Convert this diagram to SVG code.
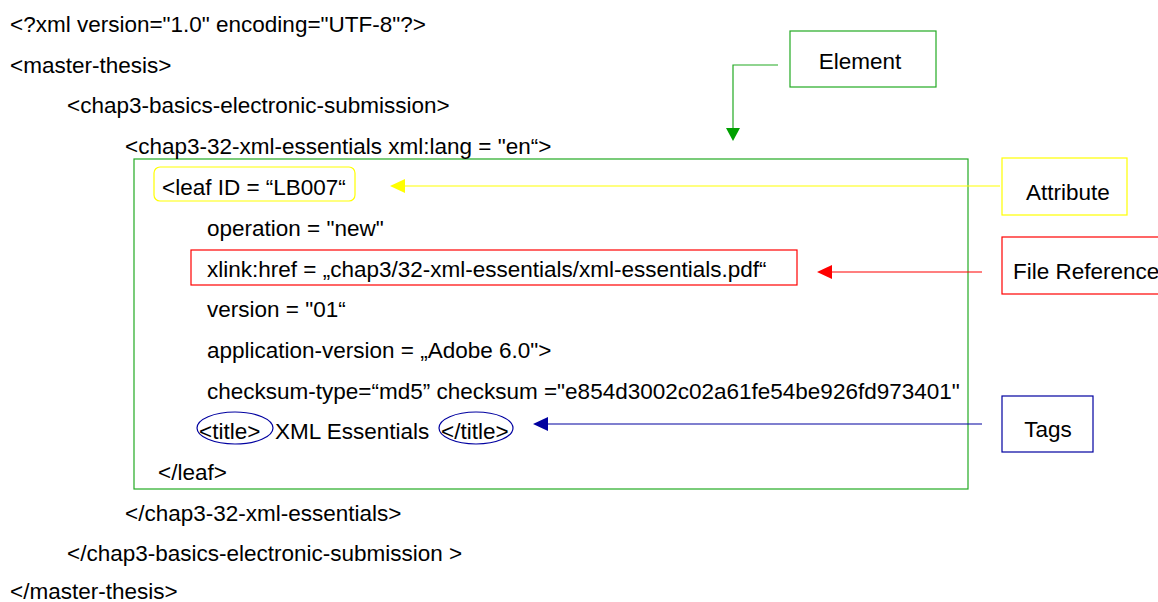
<svg xmlns="http://www.w3.org/2000/svg" width="1158" height="602" viewBox="0 0 1158 602">
  <style>
    text { font-family: "Liberation Sans", Arial, sans-serif; font-size: 22.5px; fill: #000; }
    .box { fill: #fff; stroke-width: 1.2; }
  </style>

  <!-- XML listing -->
  <g id="listing">
    <rect x="134" y="159" width="834" height="330" fill="none" stroke="#22aa22" stroke-width="1.2"/>
    <rect x="154" y="167" width="201" height="34" rx="6" fill="none" stroke="#ffff00" stroke-width="1.2"/>
    <rect x="191" y="250" width="606" height="35" fill="none" stroke="#ff0000" stroke-width="1.2"/>
    <ellipse cx="235" cy="428" rx="38" ry="16" fill="none" stroke="#0000a0" stroke-width="1.2"/>
    <ellipse cx="476" cy="428" rx="37" ry="16" fill="none" stroke="#0000a0" stroke-width="1.2"/>

    <text x="10" y="32">&lt;?xml version="1.0" encoding="UTF-8"?&gt;</text>
    <text x="10" y="73">&lt;master-thesis&gt;</text>
    <text x="67" y="113">&lt;chap3-basics-electronic-submission&gt;</text>
    <text x="125" y="154">&lt;chap3-32-xml-essentials xml:lang = "en“&gt;</text>
    <text x="162" y="195">&lt;leaf ID = “LB007“</text>
    <text x="207" y="236">operation = "new"</text>
    <text x="207" y="277">xlink:href = „chap3/32-xml-essentials/xml-essentials.pdf“</text>
    <text x="207" y="317">version = "01“</text>
    <text x="207" y="358">application-version = „Adobe 6.0"&gt;</text>
    <text x="207" y="399">checksum-type=“md5” checksum ="e854d3002c02a61fe54be926fd973401"</text>
    <text x="199" y="439">&lt;title&gt;</text>
    <text x="275" y="439">XML Essentials</text>
    <text x="441" y="439">&lt;/title&gt;</text>
    <text x="158" y="480">&lt;/leaf&gt;</text>
    <text x="125" y="521">&lt;/chap3-32-xml-essentials&gt;</text>
    <text x="67" y="561">&lt;/chap3-basics-electronic-submission &gt;</text>
    <text x="10" y="599">&lt;/master-thesis&gt;</text>
  </g>

  <!-- label callouts -->
  <g id="element">
    <rect class="box" x="790" y="31" width="146" height="56" stroke="#22aa22"/>
    <text x="860" y="69" text-anchor="middle">Element</text>
  </g>
  <g id="attribute">
    <rect class="box" x="1002" y="158" width="125" height="57" stroke="#ffff00"/>
    <text x="1068" y="200" text-anchor="middle">Attribute</text>
  </g>
  <g id="file-reference">
    <rect class="box" x="1002" y="237" width="170" height="57" stroke="#ff0000"/>
    <text x="1013" y="279">File Reference</text>
  </g>
  <g id="tags">
    <rect class="box" x="1002" y="396" width="91" height="56" stroke="#0000a0"/>
    <text x="1048" y="437" text-anchor="middle">Tags</text>
  </g>

  <!-- connectors -->
  <g id="connectors" stroke-width="1.2">
    <path d="M778,65 H733 V130" fill="none" stroke="#22aa22"/>
    <polygon points="726,128 740,128 733,141" fill="#00a000"/>
    <path d="M1000,186 H400" fill="none" stroke="#ffff00"/>
    <polygon points="390,186 405,179 405,193" fill="#ffff00"/>
    <path d="M982,272 H825" fill="none" stroke="#ff0000"/>
    <polygon points="817,272 832,265 832,279" fill="#ff0000"/>
    <path d="M982,424 H543" fill="none" stroke="#0000a0"/>
    <polygon points="533,424 548,417 548,431" fill="#0000a0"/>
  </g>
</svg>
